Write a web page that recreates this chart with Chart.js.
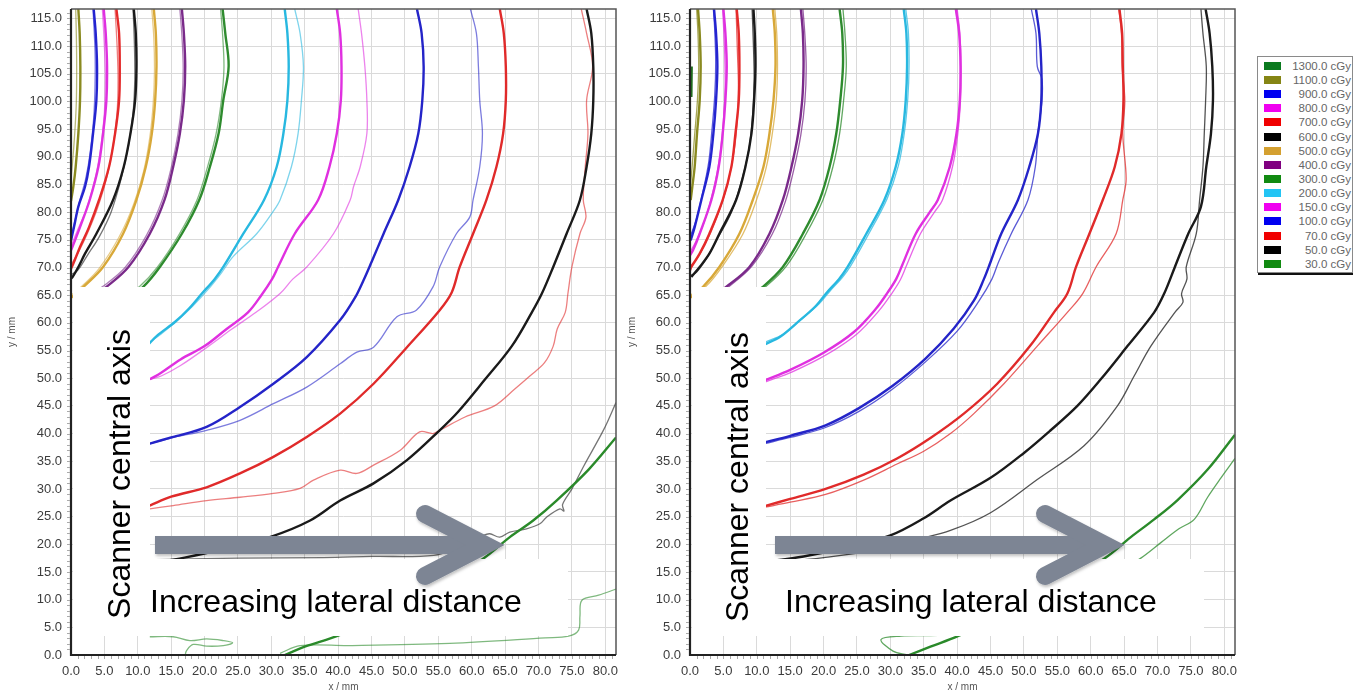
<!DOCTYPE html>
<html><head><meta charset="utf-8">
<script src="https://cdn.jsdelivr.net/npm/chart.js@4.4.1/dist/chart.umd.min.js"></script>
<style>
html,body{margin:0;padding:0;background:#fff;width:1353px;height:696px;overflow:hidden;font-family:'Liberation Sans',Arial,sans-serif}
.wrap{position:absolute;top:0;width:630px;height:696px}
#wrapL{left:0}
#wrapR{left:620px}
#legend{position:absolute;left:1257px;top:56px;width:94px;height:215px;border:1px solid #8a8a8a;box-shadow:1px 2px 0 #111;background:#fff}
.lrow{position:absolute;left:0;width:94px;height:14px}
.sw{position:absolute;left:6px;top:3px;width:17px;height:8px}
.lt{position:absolute;right:1px;top:0;font-size:11.5px;line-height:14px;color:#666;white-space:nowrap}
#ov{position:absolute;left:0;top:0}
</style></head>
<body>
<div class="wrap" id="wrapL"><canvas id="cL" width="630" height="696"></canvas></div>
<div class="wrap" id="wrapR"><canvas id="cR" width="630" height="696"></canvas></div>
<div id="legend"></div>
<svg id="ov" width="1353" height="696" xmlns="http://www.w3.org/2000/svg">
  <defs>
    <filter id="sh" x="-10%" y="-30%" width="120%" height="160%">
      <feDropShadow dx="1" dy="2" stdDeviation="1.5" flood-color="#000" flood-opacity="0.25"/>
    </filter>
  </defs>
  <rect x="73" y="287" width="77" height="349" fill="#fff"/>
  <rect x="150" y="559" width="418" height="77" fill="#fff"/>
  <rect x="692" y="287" width="74" height="349" fill="#fff"/>
  <rect x="766" y="559" width="438" height="77" fill="#fff"/>
  <g fill="none" stroke="#7d8594" stroke-width="18" filter="url(#sh)">
    <line x1="155" y1="545" x2="478" y2="545" stroke-linecap="butt"/>
    <polyline points="425,514 485,545 425,576" stroke-linecap="round" stroke-linejoin="miter"/>
    <line x1="775" y1="545" x2="1098" y2="545" stroke-linecap="butt"/>
    <polyline points="1045,514 1105,545 1045,576" stroke-linecap="round" stroke-linejoin="miter"/>
  </g>
  <g font-family="Liberation Sans, Arial, sans-serif" font-size="32" fill="#000">
    <text x="130" y="474" transform="rotate(-90 130 474)" text-anchor="middle">Scanner central axis</text>
    <text x="150" y="612">Increasing lateral distance</text>
    <text x="748" y="477" transform="rotate(-90 748 477)" text-anchor="middle">Scanner central axis</text>
    <text x="785" y="612">Increasing lateral distance</text>
  </g>
</svg>
<script>
// ---------- axis / legend data ----------
const xTicks = [0,5,10,15,20,25,30,35,40,45,50,55,60,65,70,75,80];
const yTicks = [0,5,10,15,20,25,30,35,40,45,50,55,60,65,70,75,80,85,90,95,100,105,110,115];
const X_MAX = 81.6, Y_MAX = 116.7;
const levels = ['1300.0 cGy','1100.0 cGy','900.0 cGy','800.0 cGy','700.0 cGy','600.0 cGy','500.0 cGy','400.0 cGy','300.0 cGy','200.0 cGy','150.0 cGy','100.0 cGy','70.0 cGy','50.0 cGy','30.0 cGy'];
const legendColors = ['#0b7a1f','#858514','#0000f0','#f000f0','#f00000','#000000','#d4a030','#800080','#118a11','#22c4f4','#f000f0','#0000f0','#f00000','#000000','#118a11'];
const lineColors = {1300:'#1f6f1f',1100:'#8a8a20',900:'#2424d0',800:'#e030e0',700:'#e42a2a',600:'#1a1a1a',500:'#d8a838',400:'#7a2a8a',300:'#2e8b2e',200:'#28b8e0',150:'#e030e0',100:'#2424c8',70:'#e02a2a',50:'#1a1a1a',30:'#2a8a2a'};

// ---------- left panel contours [x mm, y mm] ----------
const L_1100_a = [[0,82],[0.35,84.6],[0.7,88.2],[1.1,94.2],[1.35,100.2],[1.4,106.3],[1.3,112.3],[1.1,116.7]];
const L_1100_b = [[0,86],[0.3,90],[0.6,95],[0.8,100],[0.85,106],[0.8,112],[0.7,116.7]];
const L_900_a = [[0,74.9],[0.45,77.3],[1.1,81],[2.1,84.6],[2.7,88.2],[3.3,94.2],[3.8,100.2],[3.9,106.3],[3.7,112.3],[3.4,116.7]];
const L_900_b = [[0,75.5],[0.6,78.5],[1.4,82.5],[2.2,86],[2.9,91],[3.4,97],[3.6,103],[3.6,109],[3.3,116.7]];
const L_800_a = [[0,73.1],[0.6,74.9],[1.35,77.3],[2.8,82.2],[4.1,88.2],[4.8,94.2],[5.3,100.2],[5.4,106.3],[5.2,112.3],[4.9,116.7]];
const L_800_b = [[0,73.8],[0.9,76.5],[2.3,80.5],[3.6,86],[4.5,92],[5.0,98],[5.15,104],[5.0,110],[4.7,116.7]];
const L_700_a = [[0,69.8],[0.35,70.7],[1.35,73.7],[2.7,77.3],[4.2,82.2],[5.7,88.2],[6.6,94.2],[7.2,100.2],[7.3,106.3],[7.2,112.3],[6.8,116.7]];
const L_700_b = [[0,70.5],[1.0,72.5],[2.4,76],[3.9,80.5],[5.3,86],[6.3,92],[6.9,98],[7.05,104],[6.9,110],[6.6,116.7]];
const L_600_a = [[0,68],[0.25,68.3],[1.1,70.1],[2.1,72.5],[3.8,76.1],[6.3,82.2],[7.9,88.2],[8.9,94.2],[9.6,100.2],[9.8,106.3],[9.7,112.3],[9.4,116.7]];
const L_600_b = [[0,68.7],[1.0,69.5],[2.5,72.3],[4.2,75.5],[6.0,80],[7.5,86],[8.6,92],[9.3,98],[9.55,104],[9.5,110],[9.3,116.7]];
const L_500_a = [[0,64.5],[1.85,66.5],[4.8,70.1],[7.8,76.1],[9.8,82.2],[11.2,88.2],[12.1,94.2],[12.6,100.2],[12.8,106.3],[12.7,112.3],[12.4,116.7]];
const L_500_b = [[0,65],[1.5,66.5],[4.2,69.8],[7.2,75.5],[9.4,81.5],[10.9,87.5],[11.8,93.5],[12.3,99.5],[12.5,105.5],[12.4,111.5],[12.1,116.7]];
const L_400_a = [[3,64.5],[5.3,66.5],[8.6,70.1],[11.8,76.1],[14.0,82.2],[15.3,88.2],[16.3,94.2],[16.9,100.2],[17.1,106.3],[16.9,112.3],[16.6,116.7]];
const L_400_b = [[2.5,64.8],[4.8,66.6],[8.1,70],[11.3,75.8],[13.6,82],[15.0,88],[16.0,94],[16.6,100],[16.8,106],[16.6,112],[16.3,116.7]];
const L_300_a = [[8.5,64.5],[10.8,66.5],[13.3,70.1],[16.6,76.1],[19.2,82.2],[20.8,88.2],[22.1,94.2],[22.8,100.2],[23.6,106.3],[23.1,112.3],[22.7,116.7]];
const L_300_b = [[8,64.8],[10.3,66.6],[12.9,70],[16.2,76],[18.8,82],[20.4,88],[21.7,94],[22.5,100],[22.9,106],[22.7,112],[22.4,116.7]];
const L_200_a = [[11.5,56],[12.9,57.7],[15.6,60.2],[17.6,62.5],[19.6,65.3],[21.5,67.9],[22.8,70.1],[25.8,76.1],[28.9,82.2],[30.8,88.2],[31.8,94.2],[32.4,100.2],[32.6,106.3],[32.4,112.3],[32.0,116.7]];
const L_200_b = [[11.5,56.3],[13.5,58],[16,60.5],[18.2,63],[20.5,66],[22.5,69],[24.3,72],[27.8,76.1],[30.2,80],[31.3,82.2],[33.0,88.2],[34.0,94.2],[34.5,100.2],[34.8,106.3],[34.3,112.3],[33.5,116.7]];
const L_150_a = [[11.8,49.8],[13.5,51],[16.4,53.4],[20,55.8],[23.3,58.9],[26.5,61.9],[28.5,65],[30.1,67.9],[31,70.1],[33.5,76.1],[37.0,82.2],[38.7,88.2],[39.8,94.2],[40.4,100.2],[40.5,106.3],[40.3,112.3],[39.8,116.7]];
const L_150_b = [[11.8,49.8],[13.5,50.4],[16.4,52.3],[20.6,55.8],[24.1,58.9],[27.7,61.9],[31.3,65.3],[33.2,67.9],[35.3,70.1],[39.3,76.1],[41.8,82.2],[42.3,84.6],[43.3,88.2],[44.3,94.2],[44.3,100.2],[44.0,106.3],[43.5,112.3],[43.0,116.7]];
const L_100_a = [[11.8,38.2],[15,39.3],[20.3,41.2],[25.3,44.8],[30.3,49.0],[35.3,53.8],[40.3,60.5],[42.5,64.5],[43.8,67.7],[45,71],[46.8,76.1],[49.0,82.2],[50.7,88.2],[52.0,94.2],[52.6,100.2],[52.8,106.3],[52.5,112.3],[51.8,116.7]];
const L_100_b = [[11.8,38.2],[15,39.2],[20.3,40.6],[25.3,42.4],[30.3,45.4],[35.3,48.4],[40.3,52.6],[42.8,54.7],[45.3,55.6],[48.8,61.1],[51.7,62.3],[54.2,66.5],[55.2,70.1],[57.7,76.1],[59.7,79.1],[60.2,82.2],[61.2,88.2],[61.6,94.2],[61.2,100.2],[61.0,106.3],[60.7,112.3],[59.8,116.7]];
const L_70_a = [[11.8,27.0],[15,28.6],[20.3,30.3],[25.3,32.8],[30.3,35.8],[35.3,39.4],[40.3,43.6],[45.3,49.0],[50.3,55.6],[55.2,62.3],[57,65.5],[58.2,70.1],[60.2,76.1],[62.2,82.2],[63.7,88.2],[64.7,94.2],[65.1,100.2],[65.1,106.3],[64.8,112.3],[64.2,116.7]];
const L_70_b = [[11.8,26.4],[15.3,27.0],[20.3,27.9],[25.3,28.5],[30.3,29.2],[34.3,30.1],[36.3,31.6],[40.3,33.4],[42.8,32.8],[45.3,34.3],[49.3,37.0],[52.2,40.3],[54.2,40.0],[55.2,40.6],[59,43],[63.4,45],[66.4,48],[68.7,50.4],[70.9,52.8],[72.2,55.8],[72.8,58.9],[74.0,61.9],[74.4,65.3],[75.0,70.1],[76.2,76.1],[77.1,79.1],[76.7,82.2],[77.0,88.2],[77.4,94.2],[77.2,100.2],[78.1,106.3],[77.2,112.3],[76.4,116.7]];
const L_50_a = [[11,16.5],[17,17.6],[23,19.2],[30,21.4],[35.8,24.3],[40.3,27.9],[45.3,31.0],[50.3,35.2],[55.2,40.6],[58,44],[62,49.8],[66,55.8],[69,61.9],[70.5,65.3],[72.2,70.1],[74.2,76.1],[76.2,82.2],[77.2,88.2],[77.9,94.2],[78.2,100.2],[78.2,106.3],[77.9,112.3],[77.2,116.7]];
const L_50_b = [[11,17.2],[25,17.5],[37.8,17.6],[45,17.8],[54.3,18],[58,19.5],[61.7,21.6],[62.7,21.9],[64.2,21.3],[65.7,22.2],[68.2,22.8],[70.2,23.7],[71.2,24.9],[73.2,26.4],[73.8,26.0],[73.6,27.2],[75,30],[76.8,34.2],[79.8,40.8],[81.6,45.6]];
const L_30_a = [[32,0],[35,1.5],[40,3.5],[45,6.3],[50,9.3],[55,12.5],[61.7,17.4],[65.7,21.3],[69.2,24.3],[72.7,27.9],[77.5,33.5],[81.6,39.3]];
const L_30_b1 = [[11.8,3.3],[15.3,3.3],[17.8,2.6],[20.3,2.9],[22.8,2.6],[24.2,2.2],[22.8,1.7],[20.3,1.6],[18.3,1.9],[17.3,0.8],[17.1,0]];
const L_30_b2 = [[31.3,0.3],[34.3,1.7],[41.8,1.7],[56.7,2.1],[71,3.1],[74.5,3.4],[76,4.5],[76.2,7],[76.5,9.9],[79,10.8],[81.6,11.9]];

// ---------- right panel contours [x mm, y mm] ----------
const R_1300 = [[0.2,100.8],[0.25,106.3]];
const R_1100_a = [[0.1,82.2],[0.35,84.6],[0.7,88.2],[1.05,94.2],[1.45,100.2],[1.6,106.3],[1.45,112.3],[1.2,116.7]];
const R_1100_b = [[0,84],[0.3,88],[0.7,94],[1.1,100],[1.3,106],[1.2,112],[1.0,116.7]];
const R_900_a = [[0.1,74.9],[0.7,77.3],[1.7,82.2],[2.9,88.2],[3.5,94.2],[3.9,100.2],[4.1,106.3],[3.9,112.3],[3.6,116.7]];
const R_900_b = [[0,75.5],[0.9,78.5],[1.9,83.5],[2.8,89],[3.3,95],[3.7,101],[3.85,107],[3.7,113],[3.5,116.7]];
const R_800_a = [[0,72.2],[0.45,73.1],[1.45,76.1],[3.2,82.2],[4.3,88.2],[4.9,94.2],[5.3,100.2],[5.5,106.3],[5.3,112.3],[5.0,116.7]];
const R_800_b = [[0,72.8],[0.8,74.5],[2.2,78.5],[3.6,84.5],[4.5,90.5],[5.0,96.5],[5.25,102.5],[5.2,108.5],[4.9,116.7]];
const R_700_a = [[0,69.5],[0.2,70.1],[1.45,72.5],[2.9,76.1],[4.9,82.2],[6.2,88.2],[6.8,94.2],[7.3,100.2],[7.4,106.3],[7.3,112.3],[7.0,116.7]];
const R_700_b = [[0,70.2],[0.8,71.2],[2.2,74],[4.0,79],[5.6,85],[6.6,91],[7.1,97],[7.25,103],[7.1,109],[6.9,116.7]];
const R_600_a = [[0.2,68.3],[1.45,70.1],[2.9,72.5],[4.4,76.1],[6.9,82.2],[8.3,88.2],[9.2,94.2],[9.6,100.2],[9.8,106.3],[9.7,112.3],[9.5,116.7]];
const R_600_b = [[0,68.5],[1,69.2],[2.4,71.5],[4,75],[6.2,80],[7.8,86],[8.9,92],[9.4,98],[9.6,104],[9.5,110],[9.3,116.7]];
const R_500_a = [[0,64.5],[1.95,66.5],[4.4,70.1],[7.4,76.1],[9.4,82.2],[11.0,88.2],[11.9,94.2],[12.5,100.2],[12.8,106.3],[12.7,112.3],[12.4,116.7]];
const R_500_b = [[0,65],[2.4,66.6],[4.9,70.3],[7.9,76],[9.9,82],[11.4,88],[12.3,94],[12.9,100],[13.1,106],[13.0,112],[12.7,116.7]];
const R_400_a = [[3,64.5],[5.4,66.5],[8.9,70.1],[11.9,76.1],[13.9,82.2],[15.2,88.2],[16.2,94.2],[16.8,100.2],[17.0,106.3],[16.9,112.3],[16.6,116.7]];
const R_400_b = [[3.5,64.6],[5.9,66.6],[9.3,70.3],[12.3,76],[14.3,82],[15.6,88],[16.6,94],[17.2,100],[17.4,106],[17.2,112],[16.9,116.7]];
const R_300_a = [[8.5,64.5],[10.9,66.5],[13.9,70.1],[16.9,76.1],[19.4,82.2],[20.9,88.2],[21.9,94.2],[22.5,100.2],[22.9,106.3],[22.8,112.3],[22.4,116.7]];
const R_300_b = [[9,64.6],[11.4,66.6],[14.4,70.2],[17.4,76.1],[19.9,82.2],[21.4,88.2],[22.4,94.2],[23.0,100.2],[23.4,106.3],[23.2,112.3],[22.9,116.7]];
const R_200_a = [[11.2,56.1],[13.5,57.5],[16,60],[18.8,63],[20.5,65.5],[22.3,67.9],[23.6,70.1],[26.4,76.1],[29.1,82.2],[30.8,88.2],[31.8,94.2],[32.3,100.2],[32.5,106.3],[32.4,112.3],[32.0,116.7]];
const R_200_b = [[11.2,56.5],[14,58],[16.5,60.5],[19.3,63.4],[21,65.8],[22.8,68.2],[24.1,70.4],[26.9,76.4],[29.5,82.4],[31.2,88.4],[32.1,94.4],[32.6,100.4],[32.8,106.4],[32.7,112.4],[32.3,116.7]];
const R_150_a = [[11.2,49.6],[15,51.5],[20,54.6],[24.5,58.3],[27.8,62.5],[29.6,65.5],[30.9,68],[31.8,70.5],[33.8,76.1],[35.9,80],[37.1,82.2],[38.9,88.2],[39.9,94.2],[40.4,100.2],[40.5,106.3],[40.3,112.3],[39.8,116.7]];
const R_150_b = [[11.2,49.3],[15.4,51.2],[20.5,54.3],[25,58],[28.3,62.2],[30.2,65.3],[31.5,67.8],[32.4,70.3],[34.5,76.1],[36.6,80],[37.8,82.2],[39.3,88.2],[40.1,94.2],[40.5,100.2],[40.6,106.3],[40.4,112.3],[40.0,116.7]];
const R_100_a = [[11.2,38.4],[15,39.6],[20.3,41.5],[25.3,44.6],[30.3,48.6],[35.3,53.6],[39.5,59],[42.5,64],[44,67.9],[45,71],[46.6,76.1],[49.1,82.2],[50.8,88.2],[52.1,94.2],[52.6,100.2],[52.6,106.3],[52.3,112.3],[51.8,116.7]];
const R_100_b = [[11.2,38.2],[15,39.3],[20.3,41.1],[25.3,44.0],[30.3,48.0],[35.3,53.0],[40,58.5],[43.3,64],[45.2,67.9],[46.2,71],[48.1,76.1],[50.6,82.2],[51.7,88.2],[52.1,94.2],[52.7,100.2],[52.7,104],[52.0,106.3],[51.8,112.3],[51.1,116.7]];
const R_70_a = [[11.2,26.9],[15,28.2],[20.3,30.0],[26,32.6],[31,35.5],[36,39.2],[41,43.6],[46,49],[50.9,55.8],[54.5,61.9],[56.5,65.3],[57.8,70.1],[59.8,76.1],[61.8,82.2],[63.6,88.2],[64.6,94.2],[64.9,100.2],[64.8,106.3],[64.7,112.3],[64.3,116.7]];
const R_70_b = [[11.2,26.7],[15,27.6],[20.3,29.0],[26,31.6],[31,34.5],[35,36.8],[39,40.0],[42.5,43.6],[47,49],[52,55.8],[56.5,61.9],[58.8,65.3],[60.8,70.1],[63.8,76.1],[64.8,82.2],[65.3,86],[64.8,94.2],[65.1,100.2],[64.7,106.3],[64.6,112.3],[64.2,116.7]];
const R_50_a = [[11,16.8],[17,17.8],[23,19.3],[30,21.6],[35,24.7],[39,27.9],[45,32],[50,36.5],[54,40.6],[58,45],[61.5,49.8],[65.5,55.8],[69.5,61.9],[71,65.3],[72.6,70.1],[74.6,76.1],[76.5,81],[77.3,88.2],[78.0,94.2],[78.3,100.2],[78.2,106.3],[77.8,112.3],[77.2,116.7]];
const R_50_b = [[11,16.5],[20,17.6],[28,19.0],[34,20.9],[39,22.5],[45,25.7],[52,31.7],[59,37.8],[64,45.0],[66.5,50.4],[69,55.8],[72.6,61.9],[73.8,63.7],[73.6,65.3],[74.4,67.9],[74.3,70.1],[75.8,76.1],[76.3,82.2],[76.8,88.2],[77.0,94.2],[77.2,100.2],[77.3,106.3],[76.8,112.3],[76.5,116.7]];
const R_30_a = [[32.8,0],[36,1.5],[40.1,3.4],[45,6.2],[50,9.2],[55,12.6],[62,17.4],[66,21.3],[69.5,24.5],[73,28],[77.5,33.5],[81.6,39.8]];
const R_30_b1 = [[63,14],[67.5,17.5],[70.5,20.3],[73.2,22.8],[75.5,24.5],[77.5,28.5],[79.5,32],[81.6,35.5]];
const R_30_b2 = [[32.5,0],[30.4,0.7],[28.6,2.8],[31.6,3.4],[36,3.5],[40.1,3.7]];

// ---------- build datasets ----------
function hexA(hex, a){const n=parseInt(hex.slice(1),16);return `rgba(${n>>16&255},${n>>8&255},${n&255},${a})`;}
function ds(pts, level, thick, thinAlpha){
  return {data: pts.map(p=>({x:p[0],y:p[1]})), showLine:true, pointRadius:0,
    borderColor: thick ? lineColors[level] : hexA(lineColors[level], thinAlpha),
    borderWidth: thick ? 2.4 : 1.3, tension:0.35, fill:false, order: thick?0:1};
}
const leftSets = [
  [L_1100_a,1100,1],[L_1100_b,1100,0],[L_900_a,900,1],[L_900_b,900,0],[L_800_a,800,1],[L_800_b,800,0],
  [L_700_a,700,1],[L_700_b,700,0],[L_600_a,600,1],[L_600_b,600,0],[L_500_a,500,1],[L_500_b,500,0],
  [L_400_a,400,1],[L_400_b,400,0],[L_300_a,300,1],[L_300_b,300,0],[L_200_a,200,1],[L_200_b,200,0],
  [L_150_a,150,1],[L_150_b,150,0],[L_100_a,100,1],[L_100_b,100,0],[L_70_a,70,1],[L_70_b,70,0],
  [L_50_a,50,1],[L_50_b,50,0],[L_30_a,30,1],[L_30_b1,30,0],[L_30_b2,30,0]
].map(s=>ds(s[0],s[1],s[2],0.6));
const rightSets = [
  [R_1300,1300,1],[R_1100_a,1100,1],[R_1100_b,1100,0],[R_900_a,900,1],[R_900_b,900,0],[R_800_a,800,1],[R_800_b,800,0],
  [R_700_a,700,1],[R_700_b,700,0],[R_600_a,600,1],[R_600_b,600,0],[R_500_a,500,1],[R_500_b,500,0],
  [R_400_a,400,1],[R_400_b,400,0],[R_300_a,300,1],[R_300_b,300,0],[R_200_a,200,1],[R_200_b,200,0],
  [R_150_a,150,1],[R_150_b,150,0],[R_100_a,100,1],[R_100_b,100,0],[R_70_a,70,1],[R_70_b,70,0],
  [R_50_a,50,1],[R_50_b,50,0],[R_30_a,30,1],[R_30_b1,30,0],[R_30_b2,30,0]
].map(s=>ds(s[0],s[1],s[2],0.75));

// ---------- frame + minor ticks plugin ----------
const framePlugin = {
  id:'frame',
  afterDatasetsDraw(chart){
    const {ctx, chartArea:a} = chart;
    ctx.save();
    ctx.strokeStyle='#555'; ctx.lineWidth=1.5;
    ctx.beginPath(); ctx.moveTo(a.left,a.top); ctx.lineTo(a.right,a.top); ctx.lineTo(a.right,a.bottom); ctx.stroke();
    ctx.strokeStyle='#222'; ctx.lineWidth=2.2;
    ctx.beginPath(); ctx.moveTo(a.left,a.top); ctx.lineTo(a.left,a.bottom); ctx.lineTo(a.right,a.bottom); ctx.stroke();
    const xs = chart.scales.x, ys = chart.scales.y;
    ctx.strokeStyle='#aaa'; ctx.lineWidth=1;
    ctx.beginPath();
    for(let v=1; v<=X_MAX; v++){const px=Math.round(xs.getPixelForValue(v))+0.5; ctx.moveTo(px,a.bottom+1); ctx.lineTo(px,a.bottom+4);}
    for(let v=1; v<=Y_MAX; v++){const py=Math.round(ys.getPixelForValue(v))+0.5; ctx.moveTo(a.left-1,py); ctx.lineTo(a.left-4,py);}
    ctx.stroke();
    ctx.restore();
  }
};

function makeChart(id, sets, yW, padR){
  const font = {family:"'Liberation Sans', Arial, sans-serif", size:13};
  return new Chart(document.getElementById(id), {
    type:'scatter',
    data:{datasets:sets},
    options:{
      responsive:false, animation:false, devicePixelRatio:1,
      layout:{padding:{top:9,right:padR,left:0,bottom:0}},
      plugins:{legend:{display:false},tooltip:{enabled:false}},
      scales:{
        x:{type:'linear',min:0,max:X_MAX,
          afterBuildTicks:s=>{s.ticks=xTicks.map(v=>({value:v}));},
          afterFit:s=>{s.height=41; s.paddingLeft=0; s.paddingRight=0;},
          ticks:{callback:v=>Number(v).toFixed(1),maxRotation:0,minRotation:0,autoSkip:false,font:font,color:'#3c3c3c',padding:9},
          grid:{color:'#dadada',lineWidth:1,drawTicks:false},border:{display:false},
          title:{display:true,text:'x / mm',font:{family:font.family,size:10},color:'#555',padding:{top:0,bottom:3}}},
        y:{type:'linear',min:0,max:Y_MAX,
          afterBuildTicks:s=>{s.ticks=yTicks.map(v=>({value:v}));},
          afterFit:s=>{s.width=yW; s.paddingTop=0; s.paddingBottom=0;},
          ticks:{callback:v=>Number(v).toFixed(1),autoSkip:false,font:font,color:'#3c3c3c',padding:9},
          grid:{color:'#dadada',lineWidth:1,drawTicks:false},border:{display:false},
          title:{display:true,text:'y / mm',font:{family:font.family,size:10},color:'#555',padding:{top:6,bottom:0}}}
      }
    },
    plugins:[framePlugin]
  });
}
makeChart('cL', leftSets, 71, 14);
makeChart('cR', rightSets, 70, 15);

// ---------- legend ----------
const lg = document.getElementById('legend');
levels.forEach((t,i)=>{
  const r = document.createElement('div'); r.className='lrow'; r.style.top=(1.7+i*14.16)+'px';
  r.innerHTML = `<div class="sw" style="background:${legendColors[i]}"></div><div class="lt">${t}</div>`;
  lg.appendChild(r);
});
</script>
</body></html>
